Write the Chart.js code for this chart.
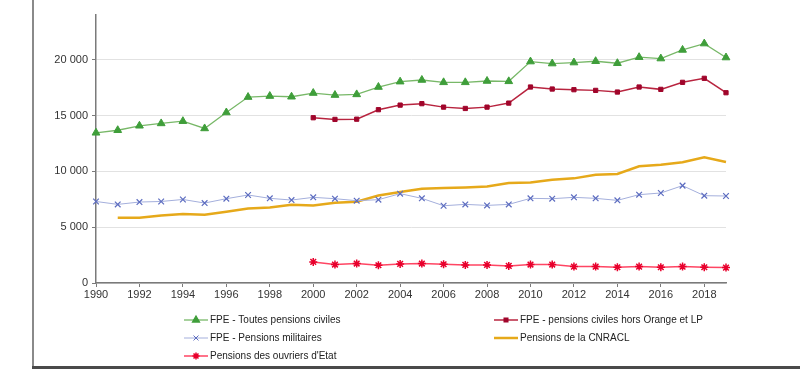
<!DOCTYPE html>
<html>
<head>
<meta charset="utf-8">
<script src="https://cdn.jsdelivr.net/npm/chart.js@4.4.0/dist/chart.umd.min.js"></script>
<style>
  html, body { margin: 0; padding: 0; background: #fff; }
  #wrap { position: relative; width: 800px; height: 374px; overflow: hidden; }
  #frameLeft { position: absolute; left: 32px; top: 0; width: 2px; height: 368px; background: #8a8a8a; }
  #frameBottom { position: absolute; left: 32px; top: 366px; width: 768px; height: 3px; background: #4a4a4a; }
  canvas { position: absolute; left: 0; top: 0; }
</style>
</head>
<body>
<div id="wrap">
  <canvas id="chart" width="800" height="374"></canvas>
  <div id="frameLeft"></div>
  <div id="frameBottom"></div>
</div>
<script>
// years 1990 - 2019
var years = [];
for (var y = 1990; y <= 2019; y++) years.push(String(y));

var toutesCiviles = [13450, 13680, 14080, 14290, 14490, 13840, 15270, 16650, 16740, 16680,
                     17010, 16830, 16890, 17550, 18030, 18180, 17970, 17970, 18090, 18060,
                     19830, 19650, 19740, 19860, 19680, 20220, 20100, 20870, 21440, 20190];
var civilesHorsOrange = [null, null, null, null, null, null, null, null, null, null,
                         14800, 14650, 14670, 15520, 15930, 16060, 15750, 15630, 15750, 16110,
                         17550, 17370, 17310, 17250, 17100, 17550, 17340, 17970, 18330, 17040];
var militaires = [7300, 7040, 7250, 7300, 7480, 7160, 7550, 7880, 7580, 7430,
                  7670, 7550, 7370, 7460, 8000, 7580, 6920, 7040, 6950, 7040,
                  7580, 7550, 7670, 7580, 7400, 7910, 8060, 8720, 7820, 7790];
var cnracl = [null, 5840, 5840, 6050, 6170, 6110, 6380, 6680, 6770, 7010,
              6950, 7190, 7280, 7840, 8150, 8450, 8510, 8560, 8650, 8960,
              9010, 9250, 9370, 9700, 9760, 10450, 10600, 10810, 11260, 10840];
var ouvriersEtat = [null, null, null, null, null, null, null, null, null, null,
                    1890, 1650, 1740, 1590, 1710, 1740, 1680, 1620, 1620, 1530,
                    1650, 1650, 1470, 1470, 1410, 1470, 1410, 1470, 1410, 1380];

var seriesNames = [
  "FPE - Toutes pensions civiles",
  "FPE - pensions civiles hors Orange et LP",
  "FPE - Pensions militaires",
  "Pensions de la CNRACL",
  "Pensions des ouvriers d'Etat"
];

var yTicks = [0, 5000, 10000, 15000, 20000];

function fmt(v) {
  return String(v).replace(/\B(?=(\d{3})+(?!\d))/g, " ");
}

// legend drawn in two columns under the plot
var legendSlots = [
  { x: 184, y: 320 }, { x: 494, y: 320 },
  { x: 184, y: 338 }, { x: 494, y: 338 },
  { x: 184, y: 356 }
];

var twoColLegend = {
  id: "twoColLegend",
  afterDraw: function (chart) {
    var ctx = chart.ctx;
    ctx.save();
    chart.data.datasets.forEach(function (ds, i) {
      var s = legendSlots[i];
      ctx.strokeStyle = ds.borderColor;
      ctx.lineWidth = ds.borderWidth;
      ctx.beginPath();
      ctx.moveTo(s.x, s.y);
      ctx.lineTo(s.x + 24, s.y);
      ctx.stroke();
      if (ds.pointRadius > 0) {
        ctx.fillStyle = ds.pointBackgroundColor;
        ctx.strokeStyle = ds.pointBorderColor;
        Chart.helpers.drawPoint(ctx, {
          pointStyle: ds.pointStyle,
          radius: ds.pointRadius - 0.5,
          rotation: 0,
          borderWidth: ds.pointBorderWidth
        }, s.x + 12, s.y);
      }
      ctx.fillStyle = "#222";
      ctx.font = "10px 'Liberation Sans', Arial, sans-serif";
      ctx.textBaseline = "middle";
      ctx.textAlign = "left";
      ctx.fillText(ds.label, s.x + 26, s.y);
    });
    ctx.restore();
  }
};

new Chart(document.getElementById("chart"), {
  type: "line",
  data: {
    labels: years,
    datasets: [
      {
        label: seriesNames[0],
        data: toutesCiviles,
        borderColor: "#78b868",
        borderWidth: 1.3,
        pointStyle: "triangle",
        pointRadius: 4.5,
        pointBackgroundColor: "#3f9e3a",
        pointBorderColor: "#3f9e3a",
        pointBorderWidth: 1
      },
      {
        label: seriesNames[1],
        data: civilesHorsOrange,
        borderColor: "#b8243f",
        borderWidth: 1.5,
        pointStyle: "rect",
        pointRadius: 3,
        pointBackgroundColor: "#a0052b",
        pointBorderColor: "#a0052b",
        pointBorderWidth: 1
      },
      {
        label: seriesNames[2],
        data: militaires,
        borderColor: "#a4afdc",
        borderWidth: 1,
        pointStyle: "crossRot",
        pointRadius: 4,
        pointBackgroundColor: "#5c6cc0",
        pointBorderColor: "#5c6cc0",
        pointBorderWidth: 1.2
      },
      {
        label: seriesNames[3],
        data: cnracl,
        borderColor: "#e6a91a",
        borderWidth: 2.5,
        pointRadius: 0,
        pointHoverRadius: 0
      },
      {
        label: seriesNames[4],
        data: ouvriersEtat,
        borderColor: "#ff4563",
        borderWidth: 1.5,
        pointStyle: "star",
        pointRadius: 4,
        pointBackgroundColor: "#e8002c",
        pointBorderColor: "#e8002c",
        pointBorderWidth: 1.5
      }
    ]
  },
  options: {
    responsive: false,
    animation: false,
    layout: { padding: { left: 40, right: 74, top: 15, bottom: 71 } },
    plugins: {
      legend: { display: false },
      tooltip: { enabled: false }
    },
    scales: {
      x: {
        type: "category",
        offset: false,
        afterBuildTicks: function (axis) {
          axis.ticks = axis.ticks.filter(function (t) { return t.value % 2 === 0; });
        },
        afterFit: function (axis) { axis.height = 20; },
        border: { color: "#7a7a7a", width: 1.5 },
        grid: { drawOnChartArea: false, drawTicks: true, tickLength: 4, tickColor: "#7a7a7a" },
        ticks: {
          autoSkip: false,
          maxRotation: 0,
          padding: 1,
          color: "#333",
          font: { family: "'Liberation Sans', Arial, sans-serif", size: 11 }
        }
      },
      y: {
        min: 0,
        max: 24000,
        afterBuildTicks: function (axis) {
          axis.ticks = yTicks.map(function (v) { return { value: v }; });
        },
        afterFit: function (axis) { axis.width = 56; },
        border: { color: "#7a7a7a", width: 1.5 },
        grid: { color: "#e2e2e2", lineWidth: 1, tickLength: 4, tickColor: "#7a7a7a" },
        ticks: {
          padding: 4,
          color: "#333",
          font: { family: "'Liberation Sans', Arial, sans-serif", size: 11 },
          callback: function (v) { return fmt(v); }
        }
      }
    }
  },
  plugins: [twoColLegend]
});
</script>
</body>
</html>
